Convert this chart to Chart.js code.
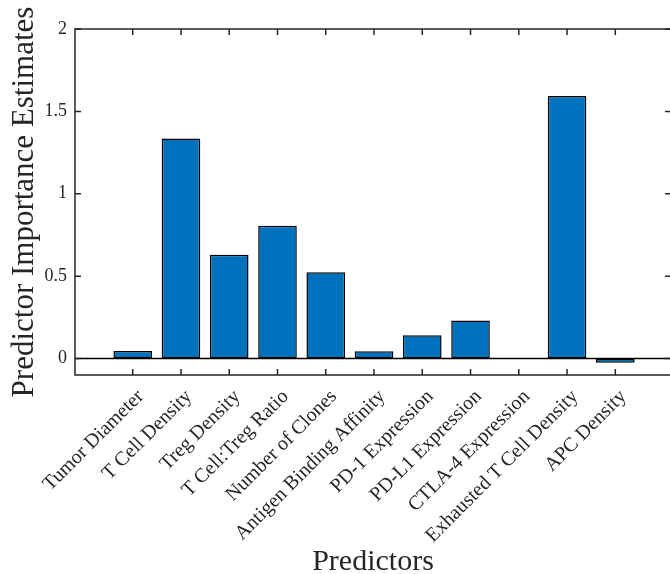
<!DOCTYPE html>
<html lang="en">
<head>
  <meta charset="UTF-8" />
  <title>Predictor Importance</title>
  <style>
    html, body { margin: 0; padding: 0; background: #fff; overflow: hidden; }
    #wrap { width: 674px; height: 574px; }
  </style>
</head>
<body>
  <div id="wrap"><canvas id="chart"></canvas></div>
  <script src="https://cdn.jsdelivr.net/npm/chart.js"></script>
  <script>
    const PREDICTORS = [
      'Tumor Diameter',
      'T Cell Density',
      'Treg Density',
      'T Cell:Treg Ratio',
      'Number of Clones',
      'Antigen Binding Affinity',
      'PD-1 Expression',
      'PD-L1 Expression',
      'CTLA-4 Expression',
      'Exhausted T Cell Density',
      'APC Density'
    ];
    const IMPORTANCE = [0.045, 1.335, 0.63, 0.806, 0.523, 0.044, 0.141, 0.231, 0.002, 1.594, -0.026];
    const Y_TICKS = [0, 0.5, 1, 1.5, 2];

    const SERIF = "'Liberation Serif', 'DejaVu Serif', serif";
    const INK = '#262626';

    // MATLAB-ish box with inward ticks plus the bar baseline
    const frame = {
      id: 'frame',
      beforeDatasetsDraw(chart) {
        const { ctx, chartArea: a, scales } = chart;
        const y0 = scales.y.getPixelForValue(0);
        ctx.save();
        ctx.strokeStyle = '#000';
        ctx.lineWidth = 1.5;
        ctx.beginPath();
        ctx.moveTo(a.left, y0);
        ctx.lineTo(a.right, y0);
        ctx.stroke();
        ctx.restore();
      },
      afterDatasetsDraw(chart) {
        const { ctx, chartArea: a, scales } = chart;
        const len = 6;
        ctx.save();
        ctx.strokeStyle = INK;
        ctx.lineWidth = 1.5;
        ctx.strokeRect(a.left, a.top, a.right - a.left, a.bottom - a.top);
        ctx.beginPath();
        PREDICTORS.forEach((_, i) => {
          const x = scales.x.getPixelForValue(i);
          ctx.moveTo(x, a.bottom); ctx.lineTo(x, a.bottom - len);
          ctx.moveTo(x, a.top); ctx.lineTo(x, a.top + len);
        });
        Y_TICKS.forEach(v => {
          const y = scales.y.getPixelForValue(v);
          ctx.moveTo(a.left, y); ctx.lineTo(a.left + len, y);
          ctx.moveTo(a.right, y); ctx.lineTo(a.right - len, y);
        });
        ctx.stroke();
        ctx.restore();
      }
    };

    new Chart(document.getElementById('chart'), {
      type: 'bar',
      data: {
        datasets: [{
          data: IMPORTANCE.map((v, i) => ({ x: i, y: v })),
          backgroundColor: '#0072BD',
          borderColor: '#000',
          borderWidth: 1.5,
          borderSkipped: false,
          barPercentage: 0.8,
          categoryPercentage: 1
        }]
      },
      options: {
        responsive: true,
        maintainAspectRatio: false,
        animation: false,
        layout: { padding: { top: 29, right: 3, left: 0, bottom: 0 } },
        plugins: { legend: { display: false }, tooltip: { enabled: false } },
        scales: {
          x: {
            type: 'linear',
            offset: false,
            min: -1.196,
            max: 11.154,
            afterBuildTicks(s) { s.ticks = PREDICTORS.map((_, i) => ({ value: i })); },
            afterFit(s) { s.height = 199; },
            grid: { display: false, drawTicks: false, offset: false },
            border: { display: false },
            ticks: {
              autoSkip: false,
              maxRotation: 45,
              minRotation: 45,
              padding: 10,
              labelOffset: 8,
              color: INK,
              font: { family: SERIF, size: 20 },
              callback: v => PREDICTORS[v]
            },
            title: {
              display: true,
              text: 'Predictors',
              color: INK,
              font: { family: SERIF, size: 30 },
              padding: { top: 0, bottom: -6 }
            }
          },
          y: {
            min: -0.1,
            max: 2,
            afterBuildTicks(s) { s.ticks = Y_TICKS.map(v => ({ value: v })); },
            afterFit(s) { s.width = 75; },
            grid: { display: false, drawTicks: false },
            border: { display: false },
            ticks: {
              padding: 8,
              color: INK,
              font: { family: SERIF, size: 18 },
              callback: v => String(v)
            },
            title: {
              display: true,
              text: 'Predictor Importance Estimates',
              color: INK,
              font: { family: SERIF, size: 31 },
              padding: { top: 6, bottom: 0 }
            }
          }
        }
      },
      plugins: [frame]
    });
  </script>
</body>
</html>
